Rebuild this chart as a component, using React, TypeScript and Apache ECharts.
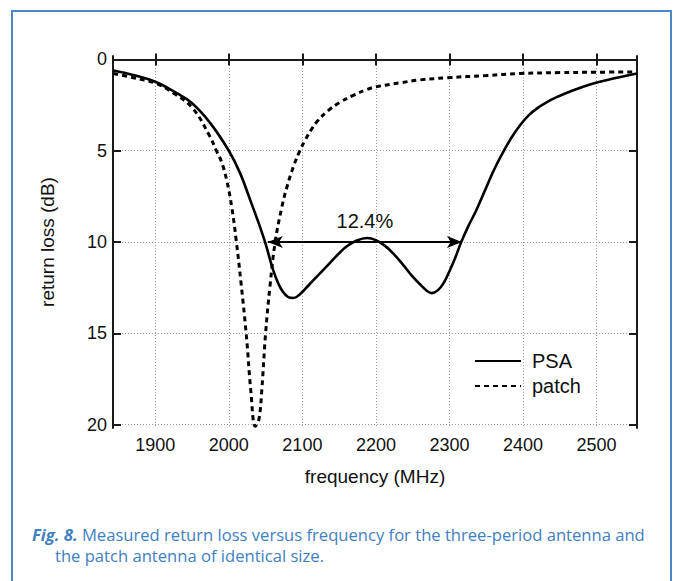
import React, { useEffect, useRef } from "react";
import * as echarts from "echarts";

const xTickValues = [1900, 2000, 2100, 2200, 2300, 2400, 2500];
const yTickValues = [0, 5, 10, 15, 20];

const psaFreq = [1843, 1870, 1900, 1925, 1950, 1975, 2000, 2015, 2030, 2040, 2050, 2060, 2070, 2080, 2088, 2097, 2110, 2122, 2135, 2148, 2160, 2174, 2188, 2200, 2212, 2224, 2237, 2250, 2262, 2270, 2276, 2284, 2292, 2300, 2308, 2316, 2326, 2336, 2348, 2360, 2372, 2384, 2396, 2408, 2420, 2432, 2445, 2465, 2490, 2520, 2555];
const psaLoss = [0.6, 0.85, 1.22, 1.75, 2.4, 3.5, 5.0, 6.2, 7.8, 8.9, 10.1, 11.5, 12.5, 13.0, 13.07, 12.85, 12.3, 11.8, 11.25, 10.7, 10.25, 9.92, 9.78, 9.9, 10.2, 10.65, 11.25, 11.9, 12.4, 12.7, 12.8, 12.65, 12.25, 11.6, 10.85, 10.0, 9.1, 8.3, 7.2, 6.1, 5.15, 4.3, 3.6, 3.05, 2.65, 2.35, 2.08, 1.74, 1.38, 1.07, 0.77];

const patchFreq = [1843, 1870, 1900, 1925, 1951, 1974, 1983, 1990, 1997, 2004, 2010, 2017, 2024, 2030, 2036, 2041, 2045, 2050, 2056, 2063, 2072, 2080, 2088, 2096, 2104, 2112, 2120, 2135, 2151, 2170, 2188, 2200, 2233, 2260, 2297, 2350, 2396, 2450, 2500, 2550];
const patchLoss = [0.77, 1.0, 1.3, 1.85, 2.68, 4.2, 5.0, 5.6, 6.6, 8.1, 9.9, 12.4, 15.2, 18.2, 20.1, 19.7, 18.0, 15.0, 12.4, 10.0, 8.1, 6.85, 5.85, 5.05, 4.4, 3.85, 3.4, 2.8, 2.35, 1.95, 1.64, 1.5, 1.28, 1.12, 1.0, 0.88, 0.77, 0.72, 0.7, 0.68];

const bandwidthStart = 2053;
const bandwidthEnd = 2317;
const bandwidthLevel = 10;
const bandwidthLabel = "12.4%";

const captionBold = "Fig. 8.";
const captionLine1 = " Measured return loss versus frequency for the three-period antenna and";
const captionLine2 = "the patch antenna of identical size.";

export default function App() {
  const ref = useRef<HTMLDivElement>(null);
  useEffect(() => {
    if (!ref.current) return;
    const chart = echarts.init(ref.current, undefined, { renderer: "svg" });
    const font = "Liberation Sans, Arial, sans-serif";
    const capFont = "Open Sans, sans-serif";
    const axisLineStyle = { color: "#1a1a1a", width: 2 };
    const tickStyle = { color: "#1a1a1a", width: 2 };
    const xMin = 1842.5, xMax = 2555, yMin = -0.19, yMax = 20.19;
    const option: any = {
      animation: false,
      backgroundColor: "#ffffff",
      grid: { left: 113, top: 56, right: 44, bottom: 153, containLabel: false },
      legend: {
        orient: "vertical",
        left: 474,
        top: 351,
        itemWidth: 46,
        itemHeight: 20,
        itemGap: 5,
        padding: 0,
        itemStyle: { color: "rgba(0,0,0,0)", borderColor: "rgba(0,0,0,0)", borderWidth: 0, opacity: 0 },
        textStyle: { fontFamily: font, fontSize: 20, color: "#111", padding: [0, 0, 0, 6] },
        data: ["PSA", "patch"],
      },
      xAxis: [
        {
          type: "value",
          min: xMin,
          max: xMax,
          position: "bottom",
          name: "frequency (MHz)",
          nameLocation: "middle",
          nameGap: 39,
          nameTextStyle: { fontFamily: font, fontSize: 19, color: "#111" },
          axisLine: { show: true, lineStyle: axisLineStyle },
          axisTick: { show: true, inside: true, length: 6, lineStyle: tickStyle, customValues: xTickValues },
          axisLabel: {
            show: true,
            customValues: xTickValues,
            formatter: (v: number) => String(v),
            fontFamily: font,
            fontSize: 18,
            color: "#111",
            margin: 8,
          },
          splitLine: { show: true, lineStyle: { color: "#9a9a9a", width: 1, type: [1, 2] } },
        },
        {
          type: "value",
          min: xMin,
          max: xMax,
          position: "top",
          axisLine: { show: true, lineStyle: axisLineStyle },
          axisTick: { show: true, inside: true, length: 6, lineStyle: tickStyle, customValues: xTickValues },
          axisLabel: { show: false },
          splitLine: { show: false },
        },
      ],
      yAxis: [
        {
          type: "value",
          inverse: true,
          min: yMin,
          max: yMax,
          position: "left",
          name: "return loss (dB)",
          nameLocation: "middle",
          nameGap: 56,
          nameTextStyle: { fontFamily: font, fontSize: 19, color: "#111" },
          axisLine: { show: true, lineStyle: axisLineStyle },
          axisTick: { show: true, inside: true, length: 8, lineStyle: tickStyle, customValues: yTickValues },
          axisLabel: {
            show: true,
            customValues: yTickValues,
            formatter: (v: number) => String(v),
            fontFamily: font,
            fontSize: 18,
            color: "#111",
            margin: 6,
          },
          splitLine: { show: true, lineStyle: { color: "#9a9a9a", width: 1, type: [1, 2] } },
        },
        {
          type: "value",
          inverse: true,
          min: yMin,
          max: yMax,
          position: "right",
          axisLine: { show: true, lineStyle: axisLineStyle },
          axisTick: { show: true, inside: true, length: 8, lineStyle: tickStyle, customValues: yTickValues },
          axisLabel: { show: false },
          splitLine: { show: false },
        },
      ],
      series: [
        {
          name: "PSA",
          type: "line",
          xAxisIndex: 0,
          yAxisIndex: 0,
          showSymbol: false,
          symbol: "none",
          smooth: 0.4,
          data: psaFreq.map((f, i) => [f, psaLoss[i]]),
          lineStyle: { color: "#000", width: 2.6, type: "solid" },
          itemStyle: { color: "#000" },
          emphasis: { disabled: true },
          markLine: {
            silent: true,
            symbol: ["arrow", "arrow"],
            symbolSize: [9, 15],
            lineStyle: { color: "#000", width: 2, type: "solid" },
            label: {
              show: true,
              position: "middle",
              formatter: bandwidthLabel,
              fontFamily: font,
              fontSize: 20,
              color: "#111",
              distance: 11,
            },
            emphasis: { disabled: true },
            data: [[{ coord: [bandwidthStart, bandwidthLevel] }, { coord: [bandwidthEnd, bandwidthLevel] }]],
          },
        },
        {
          name: "patch",
          type: "line",
          xAxisIndex: 0,
          yAxisIndex: 0,
          showSymbol: false,
          symbol: "none",
          smooth: 0.4,
          data: patchFreq.map((f, i) => [f, patchLoss[i]]),
          lineStyle: { color: "#000", width: 3, type: [5, 4] },
          itemStyle: { color: "#000" },
          emphasis: { disabled: true },
        },
      ],
      graphic: [
        {
          type: "rect",
          silent: true,
          shape: { x: 12, y: 11, width: 659, height: 600 },
          style: { fill: "none", stroke: "#4a89c8", lineWidth: 2 },
        },
        {
          type: "text",
          silent: true,
          left: 32,
          top: 526,
          style: {
            text: "{b|" + captionBold + "}{n|" + captionLine1 + "}",
            rich: {
              b: { fontFamily: capFont, fontSize: 16.6, fontWeight: "bold", fontStyle: "italic", fill: "#3f80c2" },
              n: { fontFamily: capFont, fontSize: 16.6, fill: "#3f80c2" },
            },
          },
        },
        {
          type: "text",
          silent: true,
          left: 55,
          top: 547,
          style: { text: captionLine2, fontFamily: capFont, fontSize: 16.6, fill: "#3f80c2" },
        },
      ],
    };
    chart.setOption(option);
    return () => chart.dispose();
  }, []);
  return <div ref={ref} style={{ position: "fixed", left: 0, top: 0, width: 681, height: 581 }} />;
}
